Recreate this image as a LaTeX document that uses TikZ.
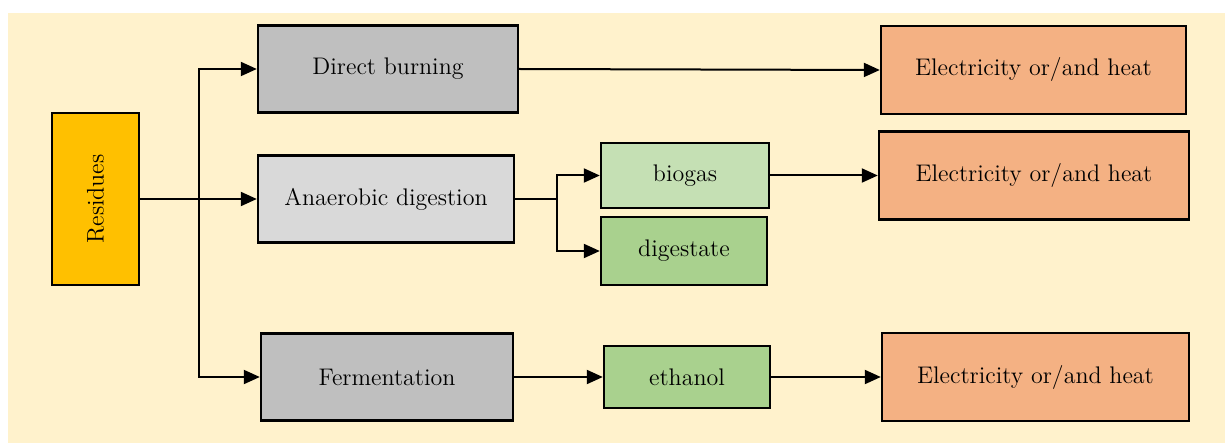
\documentclass[tikz,border=0pt]{standalone}
\usepackage{tikz}
\usetikzlibrary{arrows.meta}
\definecolor{cream}{RGB}{255, 242, 204}
\definecolor{resyellow}{RGB}{255, 192, 0}
\definecolor{greydark}{RGB}{191, 191, 191}
\definecolor{greylight}{RGB}{217, 217, 217}
\definecolor{greenlight}{RGB}{197, 224, 180}
\definecolor{greenmid}{RGB}{169, 209, 142}
\definecolor{salmon}{RGB}{244, 177, 131}
\tikzstyle{box} = [rectangle, draw=black, line width=1.2pt, text centered, font=\fontsize{12}{14}\selectfont]
\tikzstyle{arrow} = [line width=1pt,-{Triangle[length=8pt,width=7pt]}]

\begin{document}
\begin{tikzpicture}[x=0.5pt, y=-0.5pt]
        % Frame
        \useasboundingbox (0,0) rectangle (1225,443);
        \fill [cream] (8,13) rectangle (1225,443);

        % Source block
        \node (res) at (95.5,199) [box, fill=resyellow, rotate=90,
        minimum width=86pt, minimum height=43.5pt] {Residues};

        % Process blocks
        \node (burn) at (388,69) [box, fill=greydark, minimum width=130pt, minimum height=43.5pt] {Direct burning};
        \node (anaer) at (386,199) [box, fill=greylight, minimum width=128pt, minimum height=43.5pt] {Anaerobic digestion};
        \node (ferm) at (387,377) [box, fill=greydark, minimum width=126pt, minimum height=43.5pt] {Fermentation};

        % Products
        \node (biogas) at (685,175.5) [box, fill=greenlight, minimum width=84pt, minimum height=32.5pt] {biogas};
        \node (digest) at (684,251) [box, fill=greenmid, minimum width=83pt, minimum height=34pt] {digestate};
        \node (ethanol) at (687,377) [box, fill=greenmid, minimum width=83pt, minimum height=31pt] {ethanol};

        % Energy blocks
        \node (elecA) at (1033.5,70) [box, fill=salmon, minimum width=152.5pt, minimum height=44pt] {Electricity or/and heat};
        \node (elecB) at (1034,175.5) [box, fill=salmon, minimum width=155pt, minimum height=44pt] {Electricity or/and heat};
        \node (elecC) at (1035.5,377) [box, fill=salmon, minimum width=153.5pt, minimum height=44pt] {Electricity or/and heat};

        % Branch points
        \coordinate (split) at (199,199);
        \coordinate (fork) at (557,199);

        % Connectors
        \draw [line width=1.4pt] (res.south) -- (split);
        \draw [arrow] (split) |- (burn.west);
        \draw [arrow] (split) -- (anaer.west);
        \draw [arrow] (split) |- (ferm.west);
        \draw [line width=1.2pt] (anaer.east) -- (fork);
        \draw [arrow] (fork) |- (biogas.west);
        \draw [arrow] (fork) |- (digest.west);
        \draw [arrow] (burn.east) -- (elecA.west);
        \draw [arrow] (biogas.east) -- (elecB.west);
        \draw [arrow] (ferm.east) -- (ethanol.west);
        \draw [arrow] (ethanol.east) -- (elecC.west);
    \end{tikzpicture}
\end{document}
